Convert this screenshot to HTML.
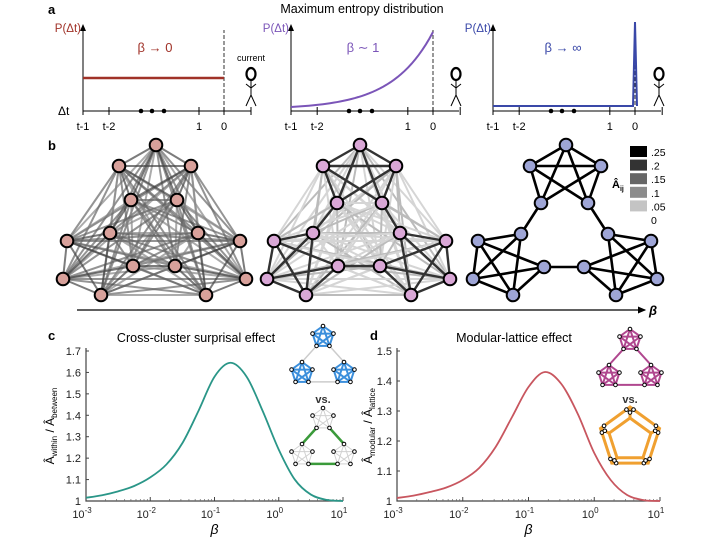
<!DOCTYPE html>
<html><head><meta charset="utf-8"><style>
html,body{margin:0;padding:0;background:#fff;}
svg{display:block;font-family:"Liberation Sans",sans-serif;}
</style></head><body>
<svg id="fig" width="720" height="540" viewBox="0 0 720 540">
<defs>
<marker id="arr" markerWidth="8" markerHeight="8" refX="6" refY="4" orient="auto"><path d="M0,1 L7,4 L0,7 z" fill="#000"/></marker>
</defs>
<g>
<text x="48" y="14" font-size="13" font-weight="bold">a</text>
<text x="362" y="13" font-size="12.5" text-anchor="middle">Maximum entropy distribution</text>
<g id="suba"></g>
</g>
<g>
<text x="48" y="150" font-size="13" font-weight="bold">b</text>
<g id="netsb"></g>
<line x1="77" y1="310" x2="645" y2="310" stroke="#000" stroke-width="1.2" marker-end="url(#arr)"/>
<text x="649" y="315" font-size="13" font-style="italic" font-weight="bold">β</text>
<g id="cbar"></g>
</g>
<text x="48" y="340" font-size="13" font-weight="bold">c</text>
<text x="196" y="342" font-size="12.5" text-anchor="middle">Cross-cluster surprisal effect</text>
<text x="370" y="340" font-size="13" font-weight="bold">d</text>
<text x="514" y="342" font-size="12.5" text-anchor="middle">Modular-lattice effect</text>
<g id="chartc"></g>
<g id="chartd"></g>
<g id="insets"></g>
</svg>
<script>
const logBeta = [-3,-2.75,-2.5,-2.25,-2,-1.75,-1.5,-1.25,-1,-0.75,-0.5,-0.25,0,0.25,0.5,0.75,1];
const ratioC = [1.015,1.027,1.045,1.07,1.11,1.17,1.27,1.42,1.58,1.645,1.58,1.42,1.24,1.1,1.03,1.005,1.0];
const ratioD = [1.01,1.018,1.03,1.045,1.07,1.11,1.18,1.28,1.38,1.43,1.39,1.29,1.16,1.07,1.02,1.003,1.0];
const xTickExp = [-3,-2,-1,0,1];
const yTicksC = [1,1.1,1.2,1.3,1.4,1.5,1.6,1.7];
const yTicksD = [1,1.1,1.2,1.3,1.4,1.5];
const weightLegend = [".25",".2",".15",".1",".05","0"];
const weightShades = ["#000","#333","#666","#8c8c8c","#c4c4c4","#fff"];

const NS="http://www.w3.org/2000/svg";
function mk(tag,attrs,parent){const e=document.createElementNS(NS,tag);for(const k in attrs)e.setAttribute(k,attrs[k]);parent.appendChild(e);return e;}

function smoothPath(pts){
  let d="M"+pts[0][0]+","+pts[0][1];
  for(let i=0;i<pts.length-1;i++){
    const p0=pts[i-1]||pts[i],p1=pts[i],p2=pts[i+1],p3=pts[i+2]||pts[i+1];
    const c1=[p1[0]+(p2[0]-p0[0])/6,p1[1]+(p2[1]-p0[1])/6];
    const c2=[p2[0]-(p3[0]-p1[0])/6,p2[1]-(p3[1]-p1[1])/6];
    d+=" C"+c1[0]+","+c1[1]+" "+c2[0]+","+c2[1]+" "+p2[0]+","+p2[1];
  }
  return d;
}

function drawChart(gid,x0,x1,y0,y1,ymin,ymax,yTicks,vals,color,ylabMain,ylabDen,ylx,name){
  const g=document.getElementById(gid);
  const sx=v=>x0+(v+3)/4*(x1-x0);
  const sy=v=>y0-(v-ymin)/(ymax-ymin)*(y0-y1);
  const ax=mk("path",{d:`M${x0},${y1-3} L${x0},${y0} L${x1},${y0}`,fill:"none",stroke:"#444","stroke-width":1.2},g);
  
  
  yTicks.forEach(t=>{
    const y=sy(t);
    mk("line",{x1:x0,y1:y,x2:x0+3,y2:y,stroke:"#444"},g);
    const tx=mk("text",{x:x0-5,y:y+4,"font-size":11,"text-anchor":"end",fill:"#222"},g);
    tx.textContent=(t===1?"1":t.toFixed(1));
    
    
  });
  xTickExp.forEach((e,i)=>{
    const x=sx(e);
    mk("line",{x1:x,y1:y0,x2:x,y2:y0-4,stroke:"#444"},g);
    if(i<xTickExp.length-1){for(let k=2;k<10;k++){const xm=sx(e+Math.log10(k));mk("line",{x1:xm,y1:y0,x2:xm,y2:y0-2,stroke:"#666","stroke-width":0.7},g);}}
    const tx=mk("text",{x:x-4,y:y0+17,"font-size":11,"text-anchor":"middle",fill:"#222"},g);
    tx.textContent="10";
    const sup=mk("tspan",{dy:-5,"font-size":8},tx);sup.textContent=String(e);
    
    
  });
  const xl=mk("text",{x:(x0+x1)/2,y:y0+33,"font-size":14,"font-style":"italic","text-anchor":"middle"},g);
  xl.textContent="β";
  
  
  const yl=mk("text",{x:0,y:0,"font-size":12,"text-anchor":"middle",transform:`translate(${ylx},${(y0+y1)/2}) rotate(-90)`},g);
  yl.innerHTML=`Â<tspan font-size="8" dy="3">${ylabMain}</tspan><tspan dy="-3"> / Â</tspan><tspan font-size="8" dy="3">${ylabDen}</tspan>`;
  
  
  const pts=logBeta.map((b,i)=>[sx(b),sy(vals[i])]);
  const p=mk("path",{d:smoothPath(pts),fill:"none",stroke:color,"stroke-width":1.8},g);
  
  
}
drawChart("chartc",86,343,501,351,1,1.7,yTicksC,ratioC,"#2a9688","within","between",54,"chart-c");
drawChart("chartd",397,660,501,351,1,1.5,yTicksD,ratioD,"#c8565f","modular","lattice",372,"chart-d");

(function(){
  const g=document.getElementById("suba");
  const subs=[{ax:83,zero:224,end:251,col:"#a03228",lab:"β → 0",labx:155,type:"flat",fig:251,cur:true},
              {ax:291,zero:433,end:459,col:"#7b55b8",lab:"β ∼ 1",labx:363,type:"exp",fig:456},
              {ax:493,zero:635,end:661,col:"#3a48a8",lab:"β → ∞",labx:563,type:"spike",fig:659}];
  subs.forEach((s,i)=>{
    const sg=mk("g",{},g);
    
    
    mk("line",{x1:s.ax,y1:111,x2:s.ax,y2:25,stroke:"#000","stroke-width":1,"marker-end":"url(#arr)"},sg);
    mk("line",{x1:s.ax,y1:111,x2:s.end,y2:111,stroke:"#000","stroke-width":1},sg);
    const step=(s.zero-s.ax);
    [[0,"t-1"],[26/141,"t-2"],[116/141,"1"],[1,"0"],[168/141,""]].forEach(([f,l])=>{
      const x=s.ax+f*step;
      mk("line",{x1:x,y1:107,x2:x,y2:115,stroke:"#000"},sg);
      if(l){const t=mk("text",{x:x,y:130,"font-size":11,"text-anchor":"middle"},sg);t.textContent=l;}
    });
    [58,69,81].forEach(d=>mk("circle",{cx:s.ax+d,cy:111,r:2.3,fill:"#000"},sg));
    mk("line",{x1:s.zero,y1:111,x2:s.zero,y2:30,stroke:"#000","stroke-width":0.8,"stroke-dasharray":"4,2"},sg);
    const pl=mk("text",{x:s.ax-2,y:32,"font-size":11.5,"text-anchor":"end",fill:s.col},sg);pl.textContent="P(Δt)";
    const bl=mk("text",{x:s.labx,y:52,"font-size":13,"text-anchor":"middle",fill:s.col},sg);bl.textContent=s.lab;
    if(s.type==="flat"){mk("line",{x1:s.ax,y1:78,x2:s.zero,y2:78,stroke:s.col,"stroke-width":2.5},sg);}
    if(s.type==="exp"){let d="";for(let k=0;k<=40;k++){const f=k/40;const x=s.ax+f*step;const y=111-4-75*(Math.exp(3.5*f)-1)/(Math.exp(3.5)-1);d+=(k?"L":"M")+x+","+y;}mk("path",{d:d,fill:"none",stroke:s.col,"stroke-width":2},sg);}
    if(s.type==="spike"){mk("path",{d:`M${s.ax},106 L${s.zero-2},106 L${s.zero},22 L${s.zero+2},106`,fill:"none",stroke:s.col,"stroke-width":2},sg);}
    const f=s.fig;
    const fg=mk("g",{stroke:"#000",fill:"none"},sg);
    
    
    mk("ellipse",{cx:f,cy:74,rx:4.5,ry:6,"stroke-width":2.2},fg);
    mk("path",{d:`M${f},80 L${f},95 M${f-5},84 L${f},88 L${f+5},84 M${f-5},106 L${f},95 L${f+5},106`,"stroke-width":1},fg);
    if(s.cur){const c=mk("text",{x:f,y:61,"font-size":9,"text-anchor":"middle",stroke:"none",fill:"#000"},sg);c.textContent="current";}
  });
  const dt=mk("text",{x:58,y:115,"font-size":12},g);dt.textContent="Δt";
})();

const nets=[
 {fill:"#d8a19b",nodes:[[156,145],[119,166],[191,166],[131,200],[177,200],[110,233],[67,241],[63,279],[101,295],[133,266],[198,233],[240,241],[246,279],[206,295],[175,266]],mode:"all"},
 {fill:"#d9a7d6",nodes:[[360,145],[323,166],[396,166],[337,203],[382,203],[313,233],[274,241],[267,279],[306,295],[338,266],[400,233],[446,241],[450,279],[411,295],[380,266]],mode:"mid"},
 {fill:"#9ea5d6",nodes:[[566,145],[530,166],[601,166],[541,203],[588,203],[521,234],[478,241],[473,279],[513,295],[544,267],[608,234],[651,241],[657,279],[616,295],[584,267]],mode:"mod"}
];
(function(){
  const g=document.getElementById("netsb");
  const boundary=[[3,4],[5,9],[10,14]];
  const bridges=[[3,5],[4,10],[9,14]];
  nets.forEach((n,ni)=>{
    const ng=mk("g",{},g);
    
    
    const cl=i=>Math.floor(i/5);
    const isBr=(a,b)=>bridges.some(p=>(p[0]===a&&p[1]===b)||(p[0]===b&&p[1]===a));
    const isBd=(a,b)=>boundary.some(p=>(p[0]===a&&p[1]===b)||(p[0]===b&&p[1]===a));
    const edges=[];
    for(let a=0;a<15;a++)for(let b=a+1;b<15;b++){
      const within=cl(a)===cl(b)&&!isBd(a,b), br=isBr(a,b);
      let col=null,w=2;
      if(n.mode==="all"){col=within||br?"#444":"#777";w=2; if(!(within||br))col=((a+b)%3===0)?"#888":"#666";}
      else if(n.mode==="mid"){if(within||br){col="#333";w=2.4;}else col=((a*7+b)%3===0)?"#bbb":"#d5d5d5";}
      else{if(within||br){col="#000";w=2.6;}}
      if(col)edges.push([a,b,col,w,within||br]);
    }
    edges.sort((x,y)=>x[4]-y[4]);
    edges.forEach(e=>{const A=n.nodes[e[0]],B=n.nodes[e[1]];mk("line",{x1:A[0],y1:A[1],x2:B[0],y2:B[1],stroke:e[2],"stroke-width":e[3],"stroke-opacity":n.mode==="all"?0.7:1},ng);});
    n.nodes.forEach(p=>{const c=mk("circle",{cx:p[0],cy:p[1],r:6.3,fill:n.fill,stroke:"#000","stroke-width":2},ng);
      
      });
  });
  const cb=document.getElementById("cbar");
  weightLegend.forEach((l,i)=>{
    const y=146+i*13.6;
    if(i<5)mk("rect",{x:630,y:y,width:17,height:11,fill:weightShades[i]},cb);
    const t=mk("text",{x:651,y:y+10,"font-size":10.5},cb);t.textContent=l;
  });
  const ai=mk("text",{x:612,y:188,"font-size":11,"font-weight":"bold"},cb);ai.innerHTML='Â<tspan font-size="7" dy="3">ij</tspan>';
})();

(function(){
  const g=document.getElementById("insets");
  function pent(cx,cy,r,rot){const p=[];for(let k=0;k<5;k++){const a=-Math.PI/2+rot+k*2*Math.PI/5;p.push([cx+r*Math.cos(a),cy+r*Math.sin(a)]);}return p;}
  function cluster(grp,cx,cy,r,col,w){const p=pent(cx,cy,r,0);for(let a=0;a<5;a++)for(let b=a+1;b<5;b++)mk("line",{x1:p[a][0],y1:p[a][1],x2:p[b][0],y2:p[b][1],stroke:col,"stroke-width":w},grp);return p;}
  function dots(grp,pts){pts.forEach(p=>mk("circle",{cx:p[0],cy:p[1],r:1.8,fill:"#fff",stroke:"#000","stroke-width":1},grp));}
  function modular(cx,cy,col,w,bcol,bw,name){
    const grp=mk("g",{},g);
    
    
    const cs=[[cx,cy],[cx-21,cy+36],[cx+21,cy+36]];
    const ps=cs.map(c=>pent(c[0],c[1],11,0));
    const br=[[ps[0][3],ps[1][0]],[ps[0][2],ps[2][0]],[ps[1][2],ps[2][3]]];
    br.forEach(b=>mk("line",{x1:b[0][0],y1:b[0][1],x2:b[1][0],y2:b[1][1],stroke:bcol,"stroke-width":bw},grp));
    cs.forEach(c=>cluster(grp,c[0],c[1],11,col,w));
    ps.forEach(p=>dots(grp,p));
  }
  modular(323,337,"#3b8fdc",2,"#ccc",1.5,"inset-modular-blue");
  modular(323,419,"#d0d0d0",1,"#3a9a3a",2.5,"inset-modular-gray");
  modular(630,340,"#b0478f",2,"#b0478f",2,"inset-modular-magenta");
  const v1=mk("text",{x:323,y:403,"font-size":11,"font-weight":"bold","text-anchor":"middle",fill:"#333"},g);v1.textContent="vs.";
  const v2=mk("text",{x:630,y:403,"font-size":11,"font-weight":"bold","text-anchor":"middle",fill:"#333"},g);v2.textContent="vs.";
  const lg=mk("g",{},g);
  
  
  const outer=pent(630,438,31,0), inner=pent(630,440,22,0);
  const pts=[];
  for(let k=0;k<5;k++){const a=outer[k],b=outer[(k+1)%5];pts.push([a[0]+(b[0]-a[0])*0.12,a[1]+(b[1]-a[1])*0.12],[a[0]+(b[0]-a[0])*0.88,a[1]+(b[1]-a[1])*0.88]);}
  [outer,inner].forEach(P=>{let d="";P.forEach((p,i)=>d+=(i?"L":"M")+p[0]+","+p[1]);d+="Z";mk("path",{d:d,fill:"none",stroke:"#f0a030","stroke-width":3},lg);});
  for(let k=0;k<5;k++)mk("line",{x1:outer[k][0],y1:outer[k][1],x2:inner[k][0],y2:inner[k][1],stroke:"#f0a030","stroke-width":3},lg);
  dots(lg,pts.concat(inner.map((p,i)=>[(p[0]+outer[i][0])/2,(p[1]+outer[i][1])/2])));
})();
</script>
</body></html>
